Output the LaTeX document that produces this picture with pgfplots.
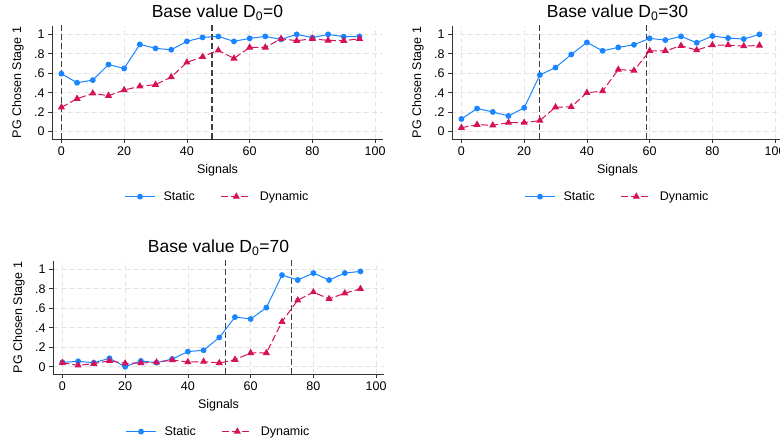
\documentclass[border=0pt]{standalone}
\usepackage{pgfplots}
\pgfplotsset{compat=1.18}
\usepackage{fontspec}
\setmainfont{Liberation Sans}
\definecolor{stcA}{HTML}{1A85FF}
\definecolor{stcB}{HTML}{D41159}
\definecolor{gridc}{HTML}{E4E4E4}
\definecolor{axc}{HTML}{333333}
\pgfplotsset{
 every axis title shift=0pt,
 panel/.style={
  scale only axis, width=331pt, height=113pt,
  xmin=-3, xmax=102.5, ymin=-0.075, ymax=1.086,
  axis x line*=bottom, axis y line*=left,
  axis line style={axc, line width=0.9pt, -},
  xtick={0,20,40,60,80,100}, ytick={0,0.2,0.4,0.6,0.8,1},
  yticklabels={0,.2,.4,.6,.8,1},
  tick style={axc, line width=0.8pt},
  tick align=outside, major tick length=4pt,
  grid=major, major grid style={gridc, dash pattern=on 5pt off 3pt, line width=0.8pt},
  ticklabel style={font=\fontsize{12.5}{14}\selectfont},
  /pgf/number format/assume math mode=true,
  xlabel={Signals}, ylabel={PG Chosen Stage 1},
  xlabel style={font=\fontsize{12.5}{14}\selectfont, at={(axis description cs:0.5,-0.274)}, anchor=center},
  ylabel style={font=\fontsize{12.5}{14}\selectfont, at={(axis description cs:-0.103,0.5)}, anchor=center},
  title style={font=\fontsize{17.5}{20}\selectfont, at={(axis description cs:0.5,1.118)}, anchor=center},
  legend style={at={(axis description cs:0.5,-0.51)}, anchor=center, legend columns=2, draw=none, fill=none,
    font=\fontsize{12.5}{14}\selectfont,
    /tikz/every odd column/.append style={column sep=6pt},
    /tikz/every even column/.append style={column sep=24pt}},
  legend image code/.code={\draw[mark repeat=2,mark phase=2,#1] plot coordinates {(0pt,0pt)(15pt,0pt)(30pt,0pt)};},
 },
 stat/.style={stcA, line width=1pt, mark=*, mark size=2.4pt, mark options={solid, fill=stcA, draw=stcA}},
 dyn/.style={stcB, line width=1pt, dash pattern=on 7pt off 3pt, mark=triangle*, mark size=3.2pt, mark options={solid, fill=stcB, draw=stcB}},
 vref/.style={black!75, line width=1.1pt, dash pattern=on 6pt off 3pt, forget plot},
}
\begin{document}
\begin{tikzpicture}
\useasboundingbox (0pt,0pt) rectangle (780pt,-443pt);
% Panel 1
\begin{axis}[panel, at={(52pt,-139pt)}, anchor=south west, title={Base value D\textsubscript{0}=0}]
\addplot[vref] coordinates {(0,-1) (0,2)};
\addplot[vref] coordinates {(48,-1) (48,2)};
\addplot[stat] coordinates {(0,0.596)(5,0.503)(10,0.53)(15,0.69)(20,0.65)(25,0.897)(30,0.856)(35,0.842)(40,0.928)(45,0.969)(50,0.979)(55,0.928)(60,0.959)(65,0.979)(70,0.949)(75,1.0)(80,0.966)(85,1.0)(90,0.976)(95,0.979)};
\addlegendentry{Static}
\addplot[dyn] coordinates {(0,0.25)(5,0.339)(10,0.394)(15,0.37)(20,0.428)(25,0.466)(30,0.483)(35,0.562)(40,0.712)(45,0.77)(50,0.836)(55,0.753)(60,0.866)(65,0.866)(70,0.955)(75,0.935)(80,0.955)(85,0.938)(90,0.935)(95,0.955)};
\addlegendentry{Dynamic}
\end{axis}
% Panel 2
\begin{axis}[panel, at={(452pt,-139pt)}, anchor=south west, title={Base value D\textsubscript{0}=30}]
\addplot[vref] coordinates {(25,-1) (25,2)};
\addplot[vref] coordinates {(59,-1) (59,2)};
\addplot[stat] coordinates {(0,0.131)(5,0.238)(10,0.203)(15,0.162)(20,0.245)(25,0.583)(30,0.659)(35,0.793)(40,0.917)(45,0.831)(50,0.866)(55,0.893)(60,0.959)(65,0.941)(70,0.979)(75,0.914)(80,0.983)(85,0.962)(90,0.952)(95,1.0)};
\addlegendentry{Static}
\addplot[dyn] coordinates {(0,0.041)(5,0.072)(10,0.066)(15,0.093)(20,0.093)(25,0.114)(30,0.252)(35,0.255)(40,0.4)(45,0.417)(50,0.638)(55,0.628)(60,0.831)(65,0.831)(70,0.883)(75,0.838)(80,0.89)(85,0.89)(90,0.879)(95,0.886)};
\addlegendentry{Dynamic}
\end{axis}
% Panel 3
\begin{axis}[panel, at={(53pt,-374pt)}, anchor=south west, title={Base value D\textsubscript{0}=70}]
\addplot[vref] coordinates {(52,-1) (52,2)};
\addplot[vref] coordinates {(73,-1) (73,2)};
\addplot[stat] coordinates {(0,0.045)(5,0.055)(10,0.041)(15,0.086)(20,0.0)(25,0.059)(30,0.041)(35,0.079)(40,0.155)(45,0.169)(50,0.3)(55,0.51)(60,0.49)(65,0.607)(70,0.941)(75,0.89)(80,0.962)(85,0.89)(90,0.962)(95,0.979)};
\addlegendentry{Static}
\addplot[dyn] coordinates {(0,0.041)(5,0.014)(10,0.031)(15,0.062)(20,0.034)(25,0.038)(30,0.045)(35,0.069)(40,0.048)(45,0.052)(50,0.038)(55,0.072)(60,0.141)(65,0.141)(70,0.462)(75,0.683)(80,0.766)(85,0.697)(90,0.755)(95,0.8)};
\addlegendentry{Dynamic}
\end{axis}
\end{tikzpicture}
\end{document}
